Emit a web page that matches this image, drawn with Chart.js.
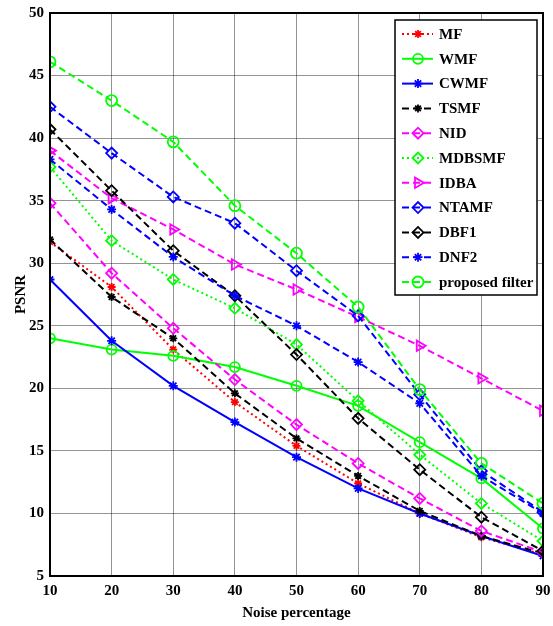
<!DOCTYPE html>
<html lang="en">
<head>
  <meta charset="UTF-8" />
  <title>PSNR vs Noise percentage</title>
  <script src="https://cdn.jsdelivr.net/npm/chart.js"></script>
  <style>
    html, body { margin: 0; padding: 0; background: #fff; }
    #wrap { width: 553px; height: 626px; }
  </style>
</head>
<body>

<div id="wrap"><canvas id="grafico" width="553" height="626"></canvas></div>

<script>
  // data
  const noise = [10, 20, 30, 40, 50, 60, 70, 80, 90];
  const yTicks = [5, 10, 15, 20, 25, 30, 35, 40, 45, 50];

  const mf       = [31.7, 28.1, 23.1, 18.9, 15.4, 12.4, 10.0, 8.1, 6.7];
  const wmf      = [24.0, 23.1, 22.6, 21.7, 20.2, 18.6, 15.7, 12.8, 8.8];
  const cwmf     = [28.7, 23.8, 20.2, 17.3, 14.5, 12.0, 10.0, 8.2, 6.6];
  const tsmf     = [31.9, 27.3, 24.0, 19.6, 16.0, 13.0, 10.2, 8.2, 6.8];
  const nid      = [34.8, 29.2, 24.8, 20.7, 17.1, 14.0, 11.2, 8.6, 6.9];
  const mdbsmf   = [37.7, 31.8, 28.7, 26.4, 23.5, 19.0, 14.7, 10.8, 7.8];
  const idba     = [39.0, 35.2, 32.7, 29.9, 27.9, 25.7, 23.4, 20.8, 18.2];
  const ntamf    = [42.5, 38.8, 35.3, 33.2, 29.4, 25.8, 19.5, 13.4, 10.1];
  const dbf1     = [40.7, 35.8, 31.0, 27.4, 22.7, 17.6, 13.5, 9.7, 7.0];
  const dnf2     = [38.3, 34.3, 30.5, 27.4, 25.0, 22.1, 18.8, 13.0, 10.0];
  const proposto = [46.1, 43.0, 39.7, 34.6, 30.8, 26.5, 19.9, 14.0, 10.8];

  const DASH = [7, 4];
  const DOT = [2, 3];
  const serif = "'Liberation Serif', 'Times New Roman', serif";

  function serie(label, valores, cor, tracejado, marcador, raio, rot) {
    return {
      label: label,
      data: valores.map((v, i) => ({ x: noise[i], y: v })),
      borderColor: cor,
      backgroundColor: cor,
      borderWidth: 2,
      borderDash: tracejado,
      pointStyle: marcador,
      pointRadius: raio,
      pointRotation: rot || 0,
      pointBorderColor: cor,
      pointBackgroundColor: 'rgba(0,0,0,0)',
      pointBorderWidth: 1.8,
      tension: 0,
      fill: false
    };
  }

  const datasets = [
    serie('MF', mf, '#ff0000', DOT, 'star', 4),
    serie('WMF', wmf, '#00ff00', [], 'circle', 5),
    serie('CWMF', cwmf, '#0000ff', [], 'star', 4.5),
    serie('TSMF', tsmf, '#000000', DASH, 'star', 4),
    serie('NID', nid, '#ff00ff', DASH, 'rectRot', 5.5),
    serie('MDBSMF', mdbsmf, '#00ff00', DOT, 'rectRot', 5.5),
    serie('IDBA', idba, '#ff00ff', DASH, 'triangle', 6, 90),
    serie('NTAMF', ntamf, '#0000ff', DASH, 'rectRot', 5.5),
    serie('DBF1', dbf1, '#000000', DASH, 'rectRot', 5.5),
    serie('DNF2', dnf2, '#0000ff', DASH, 'star', 4.5),
    serie('proposed filter', proposto, '#00ff00', DASH, 'circle', 5.5)
  ];
  // later series drawn on top, like the original plot
  datasets.forEach((d, i) => { d.order = datasets.length - i; });

  // box around the plot area + legend inside the top right corner
  const moldura = {
    id: 'moldura',
    afterDraw(chart) {
      const ctx = chart.ctx;
      const a = chart.chartArea;
      ctx.save();
      ctx.strokeStyle = '#000';
      ctx.lineWidth = 2;
      ctx.setLineDash([]);
      ctx.strokeRect(a.left, a.top, a.right - a.left, a.bottom - a.top);

      // legend
      const bx = 395, by = 20, bw = 142, bh = 275;
      ctx.fillStyle = '#fff';
      ctx.fillRect(bx, by, bw, bh);
      ctx.lineWidth = 1.5;
      ctx.strokeRect(bx, by, bw, bh);
      ctx.font = "bold 15px " + serif;
      ctx.textBaseline = 'middle';
      chart.data.datasets.forEach((d, i) => {
        const y = by + 14 + i * 24.8;
        ctx.strokeStyle = d.borderColor;
        ctx.lineWidth = 2;
        ctx.setLineDash(d.borderDash);
        ctx.beginPath();
        ctx.moveTo(bx + 7, y);
        ctx.lineTo(bx + 38, y);
        ctx.stroke();
        ctx.setLineDash([]);
        ctx.strokeStyle = d.borderColor;
        ctx.fillStyle = 'rgba(0,0,0,0)';
        ctx.lineWidth = 1.8;
        Chart.helpers.drawPoint(ctx, {
          pointStyle: d.pointStyle,
          radius: d.pointRadius,
          rotation: d.pointRotation,
          borderWidth: 1.8
        }, bx + 23, y);
        ctx.fillStyle = '#000';
        ctx.fillText(d.label, bx + 44, y + 1);
      });
      ctx.restore();
    }
  };

  new Chart(document.getElementById('grafico').getContext('2d'), {
    type: 'line',
    data: { datasets: datasets },
    options: {
      responsive: false,
      animation: false,
      layout: { padding: { top: 13, right: 10, left: 0, bottom: 0 } },
      plugins: {
        legend: { display: false },
        tooltip: { enabled: false }
      },
      scales: {
        x: {
          type: 'linear',
          min: 10,
          max: 90,
          afterBuildTicks: s => { s.ticks = noise.map(v => ({ value: v })); },
          afterFit: s => { s.height = 50; s.paddingLeft = 0; s.paddingRight = 0; },
          grid: { color: 'rgba(0,0,0,0.42)', lineWidth: 1, drawTicks: false },
          border: { display: false },
          ticks: {
            padding: 6,
            color: '#000',
            maxRotation: 0,
            font: { family: serif, size: 15, weight: 'bold' }
          },
          title: {
            display: true,
            text: 'Noise percentage',
            color: '#000',
            padding: { top: 0, bottom: 4 },
            font: { family: serif, size: 15, weight: 'bold' }
          }
        },
        y: {
          min: 5,
          max: 50,
          afterBuildTicks: s => { s.ticks = yTicks.map(v => ({ value: v })); },
          afterFit: s => { s.width = 50; s.paddingTop = 0; s.paddingBottom = 0; },
          grid: { color: 'rgba(0,0,0,0.42)', lineWidth: 1, drawTicks: false },
          border: { display: false },
          ticks: {
            padding: 6,
            color: '#000',
            font: { family: serif, size: 15, weight: 'bold' }
          },
          title: {
            display: true,
            text: 'PSNR',
            color: '#000',
            padding: { top: 12, bottom: 0 },
            font: { family: serif, size: 15, weight: 'bold' }
          }
        }
      }
    },
    plugins: [moldura]
  });
</script>

</body>
</html>
